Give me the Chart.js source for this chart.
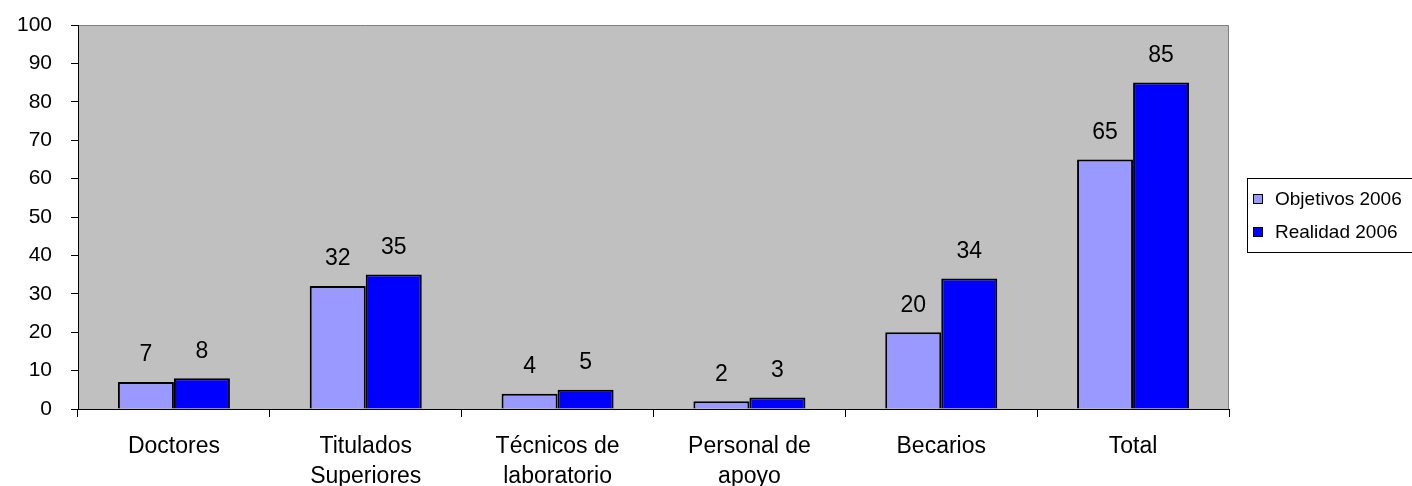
<!DOCTYPE html>
<html>
<head>
<meta charset="utf-8">
<script src="https://cdn.jsdelivr.net/npm/chart.js@4.4.1/dist/chart.umd.min.js"></script>
<style>
  html, body { margin: 0; padding: 0; background: #fff; }
  #wrap { width: 1412px; height: 486px; }
</style>
</head>
<body>
<div id="wrap"><canvas id="chart" width="1412" height="486"></canvas></div>
<script>
// Data
const categories = ['Doctores', ['Titulados', 'Superiores'], ['Técnicos de', 'laboratorio'], ['Personal de', 'apoyo'], 'Becarios', 'Total'];
const objetivos = [7, 32, 4, 2, 20, 65];
const realidad = [8, 35, 5, 3, 34, 85];
const seriesNames = ['Objetivos 2006', 'Realidad 2006'];
const yTicks = [0, 10, 20, 30, 40, 50, 60, 70, 80, 90, 100];

const FONT = '"Liberation Sans", Arial, sans-serif';

// grey plot area with a thin grey frame on top and right
const plotBackground = {
    id: 'plotBackground',
    beforeDraw(chart) {
        const { ctx, chartArea: a } = chart;
        ctx.save();
        ctx.fillStyle = '#C0C0C0';
        ctx.fillRect(a.left, a.top, a.right - a.left, a.bottom - a.top);
        ctx.strokeStyle = '#808080';
        ctx.lineWidth = 1;
        ctx.beginPath();
        ctx.moveTo(a.left, a.top + 0.5);
        ctx.lineTo(a.right - 0.5, a.top + 0.5);
        ctx.lineTo(a.right - 0.5, a.bottom);
        ctx.stroke();
        ctx.restore();
    }
};

// value above every bar
const valueLabels = {
    id: 'valueLabels',
    afterDatasetsDraw(chart) {
        const { ctx } = chart;
        ctx.save();
        ctx.font = '23px ' + FONT;
        ctx.fillStyle = '#000';
        ctx.textAlign = 'center';
        ctx.textBaseline = 'middle';
        chart.data.datasets.forEach((ds, i) => {
            chart.getDatasetMeta(i).data.forEach((bar, j) => {
                ctx.fillText(ds.data[j], bar.x, bar.y - 27);
            });
        });
        ctx.restore();
    }
};

// boxed legend to the right of the plot, cut by the page edge
const boxLegend = {
    id: 'boxLegend',
    afterDraw(chart) {
        const { ctx, chartArea: a } = chart;
        const x = a.right + 18, y = a.top + 153;
        ctx.save();
        ctx.fillStyle = '#fff';
        ctx.fillRect(x, y, 200, 74);
        ctx.strokeStyle = '#000';
        ctx.lineWidth = 1;
        ctx.strokeRect(x + 0.5, y + 0.5, 200, 74);
        ctx.font = '19px ' + FONT;
        ctx.textBaseline = 'middle';
        chart.data.datasets.forEach((ds, i) => {
            const cy = y + 21 + i * 33;
            ctx.fillStyle = ds.backgroundColor;
            ctx.fillRect(x + 6, cy - 5, 10, 10);
            ctx.strokeStyle = '#000';
            ctx.strokeRect(x + 6.5, cy - 4.5, 9, 9);
            ctx.fillStyle = '#000';
            ctx.fillText(ds.label, x + 28, cy + 1);
        });
        ctx.restore();
    }
};

new Chart(document.getElementById('chart').getContext('2d'), {
    type: 'bar',
    data: {
        labels: categories,
        datasets: [
            { label: seriesNames[0], data: objetivos, backgroundColor: '#9999FF', borderColor: '#000', borderWidth: 2 },
            { label: seriesNames[1], data: realidad, backgroundColor: '#0000FF', borderColor: '#000', borderWidth: 2 }
        ]
    },
    options: {
        responsive: false,
        animation: false,
        layout: { padding: { top: 25, right: 183, bottom: 0, left: 0 } },
        datasets: { bar: { categoryPercentage: 0.584, barPercentage: 1 } },
        plugins: {
            legend: { display: false },
            tooltip: { enabled: false }
        },
        scales: {
            x: {
                afterFit(s) { s.height = 77; s.paddingLeft = 0; s.paddingRight = 0; },
                grid: { offset: true, drawOnChartArea: false, tickLength: 8, color: '#000' },
                border: { color: '#000', width: 1 },
                ticks: { color: '#000', padding: 15, maxRotation: 0, font: { family: FONT, size: 23, lineHeight: 1.3 } }
            },
            y: {
                min: 0,
                max: 100,
                afterFit(s) { s.width = 78; s.paddingTop = 0; s.paddingBottom = 0; },
                afterBuildTicks(s) { s.ticks = yTicks.map(v => ({ value: v })); },
                grid: { drawOnChartArea: false, tickLength: 7, color: '#000' },
                border: { color: '#000', width: 1 },
                ticks: { color: '#000', padding: 19, font: { family: FONT, size: 21 } }
            }
        }
    },
    plugins: [plotBackground, valueLabels, boxLegend]
});
</script>
</body>
</html>
